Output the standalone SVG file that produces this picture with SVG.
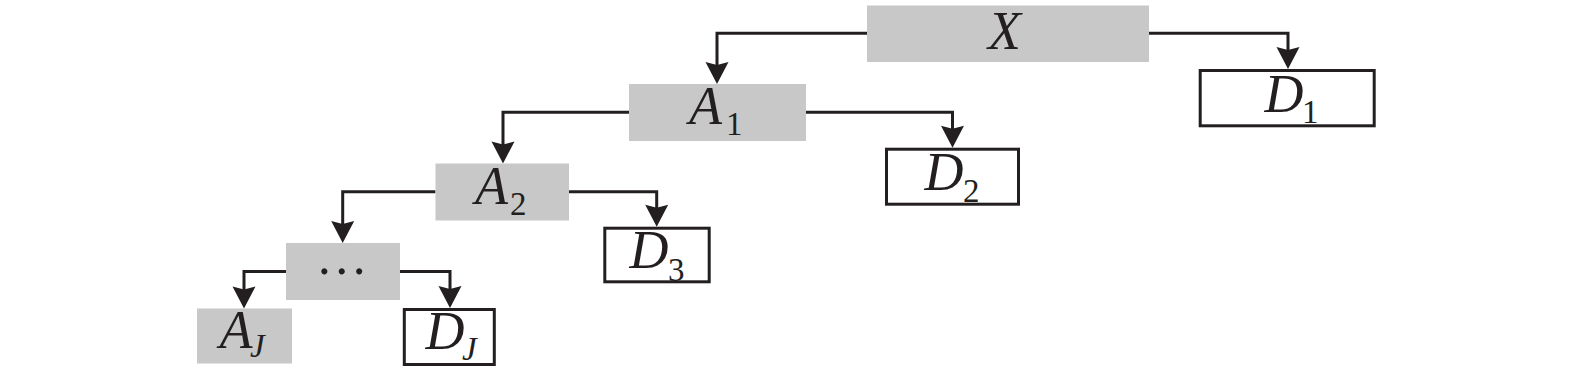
<svg xmlns="http://www.w3.org/2000/svg" width="1575" height="382" viewBox="0 0 1575 382">
<style>
.g{fill:#c8c8c8;stroke:none}
.w{fill:#ffffff;stroke:#231f20;stroke-width:3}
.c{fill:none;stroke:#231f20;stroke-width:3;marker-end:url(#ah)}
.m{font-family:"Liberation Serif","Times New Roman",serif;font-style:italic;fill:#231f20;font-size:54px}
.s{font-family:"Liberation Serif","Times New Roman",serif;font-style:normal;fill:#231f20;font-size:33px}
.sj{font-family:"Liberation Serif","Times New Roman",serif;font-style:italic;fill:#231f20;font-size:33px}
</style>
<defs>
<marker id="ah" markerUnits="userSpaceOnUse" markerWidth="40" markerHeight="30" viewBox="-25 -15 40 30" refX="0" refY="0" orient="auto" overflow="visible">
<path d="M10,0 L-12,-11.5 L-9,0 L-12,11.5 Z" fill="#231f20"/>
</marker>
</defs>
<rect width="1575" height="382" fill="#ffffff"/>
<g id="connectors">
<path class="c" d="M867,33.3 H717 V74"/>
<path class="c" d="M1149,33.3 H1288 V59"/>
<path class="c" d="M629,112.3 H503 V153.5"/>
<path class="c" d="M806,112.3 H952.5 V137.7"/>
<path class="c" d="M435.5,191.7 H342.7 V233"/>
<path class="c" d="M569,191.7 H656.7 V216.7"/>
<path class="c" d="M286,271.6 H244 V298.5"/>
<path class="c" d="M400,271.6 H450 V298"/>
</g>
<g id="X">
<rect class="g" x="867" y="5.5" width="282" height="56.5"/>
<text class="m" x="988" y="48.5">X</text>
</g>
<g id="A1">
<rect class="g" x="629" y="84" width="177" height="57"/>
<text class="m" x="689" y="124">A</text>
<text class="s" x="726" y="135">1</text>
</g>
<g id="D1">
<rect class="w" x="1200.2" y="70.5" width="174" height="55.3"/>
<text class="m" x="1264.5" y="111.5">D</text>
<text class="s" x="1302" y="123">1</text>
</g>
<g id="A2">
<rect class="g" x="435.5" y="163.5" width="133.5" height="57"/>
<text class="m" x="475" y="204">A</text>
<text class="s" x="510" y="214.5">2</text>
</g>
<g id="D2">
<rect class="w" x="886.5" y="149.2" width="132" height="55"/>
<text class="m" x="924.5" y="190">D</text>
<text class="s" x="963" y="201.5">2</text>
</g>
<g id="dots">
<rect class="g" x="286" y="243" width="114" height="57"/>
<text x="341.7" y="274" font-family="Liberation Serif, serif" font-size="52" text-anchor="middle" fill="#231f20">…</text>
</g>
<g id="D3">
<rect class="w" x="604.8" y="228.2" width="104.4" height="53.6"/>
<text class="m" x="629.5" y="268.3">D</text>
<text class="s" x="668" y="280.5">3</text>
</g>
<g id="AJ">
<rect class="g" x="197" y="308.5" width="95" height="55"/>
<text class="m" x="219.5" y="347.7">A</text>
<text class="sj" x="250" y="357">J</text>
</g>
<g id="DJ">
<rect class="w" x="404.3" y="309.5" width="90" height="55"/>
<text class="m" x="425.5" y="349">D</text>
<text class="sj" x="462" y="360">J</text>
</g>
</svg>
